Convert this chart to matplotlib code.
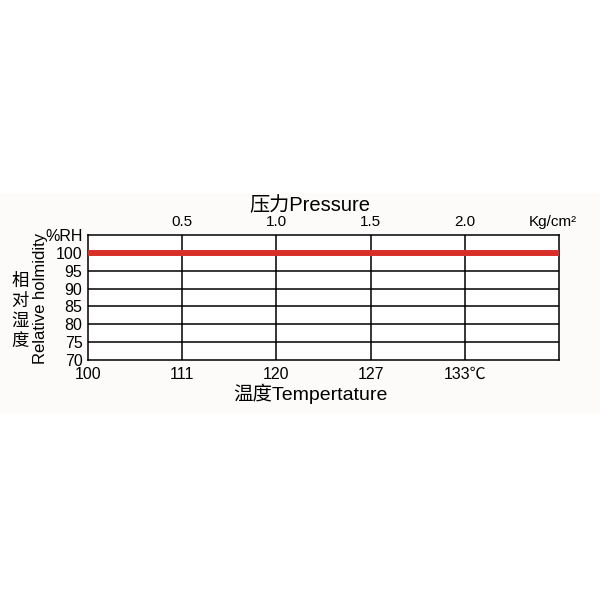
import matplotlib
matplotlib.use("Agg")
import matplotlib.pyplot as plt
from matplotlib.patches import Rectangle

plt.rcParams['font.family'] = ['Liberation Sans', 'Noto Sans CJK SC', 'DejaVu Sans']

# chart data
temps = ['100', '111', '120', '127', '133\u2103']
pressures = ['0.5', '1.0', '1.5', '2.0']
rh_ticks = [70, 75, 80, 85, 90, 95, 100]
rh_top = 105
n_cols = 5
saturation_rh = [100, 100]   # humidity held along the whole range
saturation_x = [0, n_cols]
side_title = ['相', '对', '湿', '度']

fig = plt.figure(figsize=(6, 6), dpi=100)
fig.patches.append(Rectangle((0, 1 - 412 / 600), 1, (412 - 193) / 600,
                             transform=fig.transFigure, color='#fcfbf9', zorder=-1))

ax = fig.add_axes([88 / 600, 1 - 360 / 600, 471 / 600, 125 / 600])
ax.set_xlim(0, n_cols)
ax.set_ylim(rh_ticks[0], rh_top)
ax.set_facecolor('white')

# grid
for i in range(1, n_cols):
    ax.axvline(i, color='black', lw=1.1)
for v in rh_ticks[1:-1]:
    ax.axhline(v, color='black', lw=1.1)
for s in ax.spines.values():
    s.set_linewidth(1.1)

ax.plot(saturation_x, saturation_rh, color='#d83029', lw=4.3, solid_capstyle='butt', zorder=3)

# y labels
ax.set_yticks(rh_ticks + [rh_top])
ax.set_yticklabels([str(v) for v in rh_ticks] + ['%RH'], fontsize=11.5)
ax.tick_params(axis='y', length=0, pad=4)

# bottom: temperature
ax.set_xticks(range(len(temps)))
ax.set_xticklabels(temps, fontsize=11.5)
ax.tick_params(axis='x', length=0, pad=5)

# top: pressure
ax2 = ax.secondary_xaxis('top')
ax2.set_xticks(list(range(1, len(pressures) + 1)) + [n_cols - 0.07])
ax2.set_xticklabels(pressures + ['Kg/cm\u00b2'], fontsize=11)
ax2.tick_params(axis='x', length=0, pad=4)
ax2.spines['top'].set_visible(False)

fig.text(310 / 600, 1 - 206 / 600, '压力Pressure', ha='center', va='center', fontsize=14.5)
fig.text(310 / 600, 1 - 394 / 600, '温度Tempertature', ha='center', va='center', fontsize=14)
for k, ch in enumerate(side_title):
    fig.text(20 / 600, 1 - (281 + 20 * k) / 600, ch, ha='center', va='center', fontsize=12.5)
fig.text(41 / 600, 1 - 298 / 600, 'Relative holmidity', ha='center', va='center',
         rotation=90, fontsize=12)

fig.savefig('out.png', dpi=100, facecolor='white')
